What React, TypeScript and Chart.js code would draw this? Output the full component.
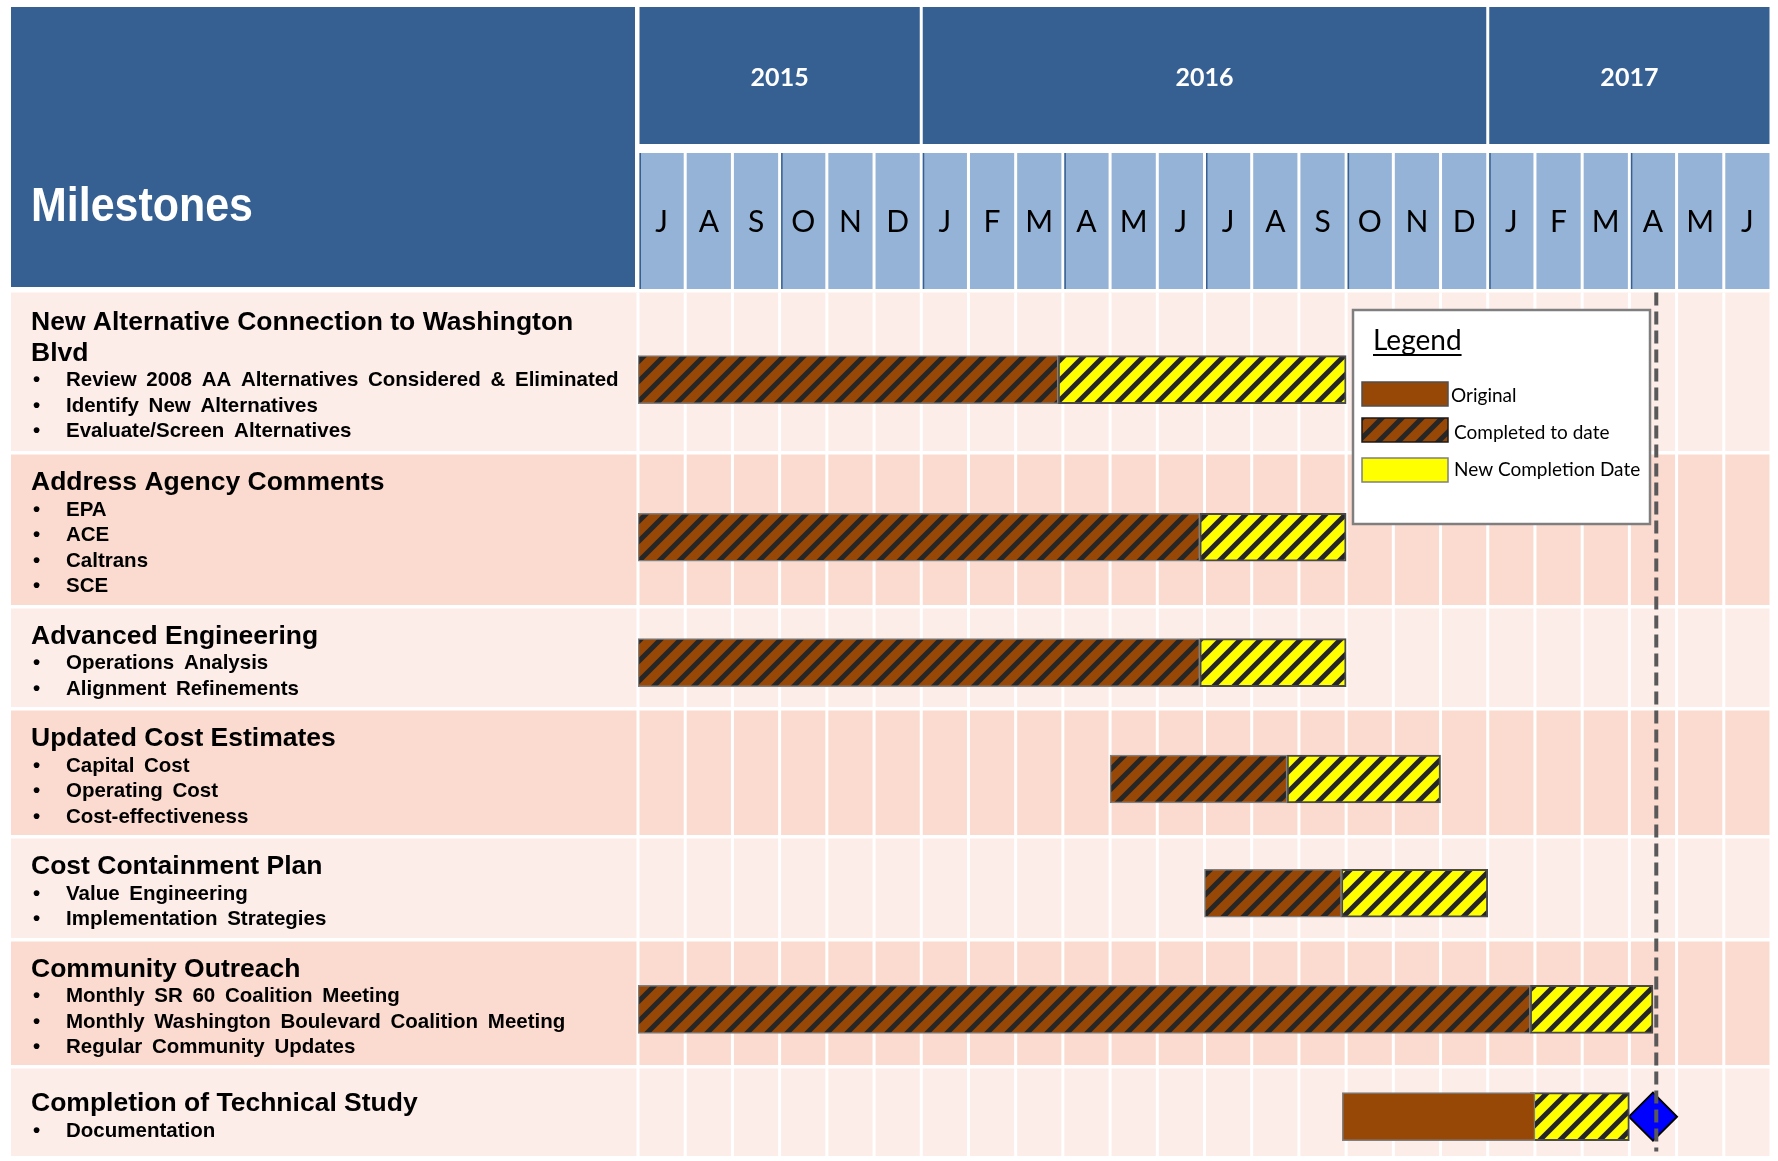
import React, { useEffect, useRef } from 'react';
import { Chart, registerables } from 'chart.js';

Chart.register(...registerables);

const CANVAS_W = 1778;
const CANVAS_H = 1161;

// ---------------- data ----------------
const years = ['2015', '2016', '2017'];
const monthsPerYear = [6, 12, 6];
const monthLabels = ['J', 'A', 'S', 'O', 'N', 'D', 'J', 'F', 'M', 'A', 'M', 'J', 'J', 'A', 'S', 'O', 'N', 'D', 'J', 'F', 'M', 'A', 'M', 'J'];

const milestoneTitles = [
  'New Alternative Connection to Washington Blvd',
  'Address Agency Comments',
  'Advanced Engineering',
  'Updated Cost Estimates',
  'Cost Containment Plan',
  'Community Outreach',
  'Completion of Technical Study',
];
const milestoneTasks = [
  ['Review 2008 AA Alternatives Considered & Eliminated', 'Identify New Alternatives', 'Evaluate/Screen Alternatives'],
  ['EPA', 'ACE', 'Caltrans', 'SCE'],
  ['Operations Analysis', 'Alignment Refinements'],
  ['Capital Cost', 'Operating Cost', 'Cost-effectiveness'],
  ['Value Engineering', 'Implementation Strategies'],
  ['Monthly SR 60 Coalition Meeting', 'Monthly Washington Boulevard Coalition Meeting', 'Regular Community Updates'],
  ['Documentation'],
];

// months counted from July 2015 (0) to July 2017 (24)
const originalRows = [6];
const originalStart = [14.92];
const originalEnd = [19];
const completedRows = [0, 1, 2, 3, 4, 5];
const completedStart = [0, 0, 0, 10, 12, 0];
const completedEnd = [8.9, 11.9, 11.9, 13.75, 14.9, 18.9];
const newDateRows = [0, 1, 2, 3, 4, 5, 6];
const newDateStart = [8.9, 11.9, 11.9, 13.75, 14.9, 18.9, 18.9];
const newDateEnd = [15, 15, 15, 17, 18, 21.5, 21];
const milestoneRows = [6];
const milestoneMonth = [21.5];
const statusMonth = 21.57;
const seriesLabels = ['Original', 'Completed to date', 'New Completion Date'];
const legendTitle = 'Legend';
const panelTitle = 'Milestones';

// ---------------- layout & style ----------------
const ROW_HEIGHTS = [162, 154, 102, 128, 103, 127, 91];
const ROW_GAP = 3.5;
const ROW_TOPS = ROW_HEIGHTS.map((_, i) => ROW_HEIGHTS.slice(0, i).reduce((a, b) => a + b, 0));
const ROWS_TOTAL = ROW_HEIGHTS.reduce((a, b) => a + b, 0);
const rowBarCenter = (i: number) => ROW_TOPS[i] + (ROW_HEIGHTS[i] - ROW_GAP) * 0.55;

const PANEL_LEFT = 11;
const GRID_LEFT = 638;
const GRID_RIGHT = 1771;
const HEADER_TOP = 7;
const YEAR_BOTTOM = 144;
const MONTH_TOP = 153;
const MONTH_BOTTOM = 289;
const PANEL_BOTTOM = 287;
const BODY_TOP = 292.5;

const COL = {
  header: '#366092',
  month: '#95B3D7',
  rowLight: '#FCEDE8',
  rowDark: '#FBDBCF',
  brown: '#974706',
  yellow: '#FFFF00',
  stripe: '#262626',
  diamond: '#0000FF',
  status: '#595959',
};

const SANS = '"Liberation Sans", Arial, sans-serif';
const CAL = 'Lato, "Open Sans", sans-serif';

function makeHatch(bg: string, stripe: string): CanvasPattern | string {
  const s = 20;
  const c = document.createElement('canvas');
  c.width = s;
  c.height = s;
  const g = c.getContext('2d');
  if (!g) return bg;
  g.fillStyle = bg;
  g.fillRect(0, 0, s, s);
  g.strokeStyle = stripe;
  g.lineWidth = 5;
  g.beginPath();
  g.moveTo(-5, 5); g.lineTo(5, -5);
  g.moveTo(-2, s + 2); g.lineTo(s + 2, -2);
  g.moveTo(s - 5, s + 5); g.lineTo(s + 5, s - 5);
  g.stroke();
  return g.createPattern(c, 'repeat') || bg;
}

function wrapWords(ctx: CanvasRenderingContext2D, text: string, maxW: number): string[] {
  const words = text.split(' ');
  const lines: string[] = [];
  let cur = '';
  words.forEach((w) => {
    const t = cur ? cur + ' ' + w : w;
    if (ctx.measureText(t).width > maxW && cur) {
      lines.push(cur);
      cur = w;
    } else cur = t;
  });
  if (cur) lines.push(cur);
  return lines;
}

export default function App() {
  const ref = useRef<HTMLCanvasElement>(null);

  useEffect(() => {
    const canvas = ref.current;
    if (!canvas) return;
    const hatchBrown = makeHatch(COL.brown, COL.stripe);
    const hatchYellow = makeHatch(COL.yellow, COL.stripe);
    const legendFills = [COL.brown, hatchBrown, COL.yellow];
    const legendBorders = ['#505050', '#1a1a1a', '#7f7f7f'];

    const headerPlugin = {
      id: 'ganttHeader',
      beforeDraw(chart: any) {
        const ctx = chart.ctx as CanvasRenderingContext2D;
        const xs = chart.scales.x;
        ctx.save();
        ctx.fillStyle = '#ffffff';
        ctx.fillRect(0, 0, CANVAS_W, CANVAS_H);
        // left title panel
        ctx.fillStyle = COL.header;
        ctx.fillRect(PANEL_LEFT, HEADER_TOP, 635 - PANEL_LEFT, PANEL_BOTTOM - HEADER_TOP);
        ctx.fillStyle = '#ffffff';
        ctx.font = 'bold 48px "Liberation Sans Narrow", ' + SANS;
        ctx.textBaseline = 'alphabetic';
        ctx.textAlign = 'left';
        const mw = ctx.measureText(panelTitle).width;
        ctx.save();
        ctx.translate(31, 221);
        ctx.scale(Math.min(1, 222 / mw), 1);
        ctx.fillText(panelTitle, 0, 0);
        ctx.restore();
        // years
        let m = 0;
        years.forEach((yr, k) => {
          const x0 = xs.getPixelForValue(m) + 1.5;
          const x1 = xs.getPixelForValue(m + monthsPerYear[k]) - 1.5;
          ctx.fillStyle = COL.header;
          ctx.fillRect(x0, HEADER_TOP, x1 - x0, YEAR_BOTTOM - HEADER_TOP);
          ctx.fillStyle = '#ffffff';
          ctx.font = 'bold 25px ' + CAL;
          ctx.textAlign = 'center';
          ctx.textBaseline = 'middle';
          ctx.fillText(yr, (x0 + x1) / 2, 78);
          m += monthsPerYear[k];
        });
        // months
        monthLabels.forEach((lab, i) => {
          const x0 = xs.getPixelForValue(i) + 1.5;
          const x1 = xs.getPixelForValue(i + 1) - 1.5;
          ctx.fillStyle = COL.month;
          ctx.fillRect(x0, MONTH_TOP, x1 - x0, MONTH_BOTTOM - MONTH_TOP);
          if (i % 3 === 0) {
            ctx.fillStyle = COL.header;
            ctx.fillRect(x0, MONTH_TOP, 1.5, MONTH_BOTTOM - MONTH_TOP);
          }
          ctx.fillStyle = '#000000';
          ctx.font = '30px ' + CAL;
          ctx.textAlign = 'center';
          ctx.textBaseline = 'middle';
          ctx.fillText(lab, (x0 + x1) / 2, 222);
        });
        ctx.restore();
      },
      beforeDatasetsDraw(chart: any) {
        const ctx = chart.ctx as CanvasRenderingContext2D;
        const xs = chart.scales.x;
        const ys = chart.scales.y;
        const area = chart.chartArea;
        ctx.save();
        ROW_HEIGHTS.forEach((h, i) => {
          const y0 = ys.getPixelForValue(ROW_TOPS[i]);
          const y1 = ys.getPixelForValue(ROW_TOPS[i] + h - ROW_GAP);
          ctx.fillStyle = i % 2 === 0 ? COL.rowLight : COL.rowDark;
          ctx.fillRect(PANEL_LEFT, y0, area.right - PANEL_LEFT, y1 - y0);
        });
        ctx.fillStyle = '#ffffff';
        for (let i = 0; i <= monthLabels.length; i++) {
          const x = xs.getPixelForValue(i);
          ctx.fillRect(x - 1.5, area.top, 3, area.bottom - area.top);
        }
        // row texts
        ctx.fillStyle = '#000000';
        ctx.textAlign = 'left';
        ctx.textBaseline = 'alphabetic';
        milestoneTitles.forEach((title, i) => {
          const y0 = ys.getPixelForValue(ROW_TOPS[i]);
          const y1 = ys.getPixelForValue(ROW_TOPS[i] + ROW_HEIGHTS[i] - ROW_GAP);
          const center = (y0 + y1) / 2;
          ctx.font = 'bold 26.5px ' + SANS;
          const lines = wrapWords(ctx, title, 590);
          const tasks = milestoneTasks[i];
          let base = center - ((lines.length - 1) * 31 + tasks.length * 25.5) / 2 + 11.5;
          lines.forEach((ln, j) => {
            ctx.fillText(ln, 31, base);
            if (j < lines.length - 1) base += 31;
          });
          ctx.font = 'bold 20.5px ' + SANS;
          (ctx as any).wordSpacing = '4px';
          tasks.forEach((t) => {
            base += 25.5;
            ctx.fillText('\u2022', 33, base);
            ctx.fillText(t, 66, base);
          });
          (ctx as any).wordSpacing = '0px';
        });
        ctx.restore();
      },
      afterDatasetsDraw(chart: any) {
        const ctx = chart.ctx as CanvasRenderingContext2D;
        const xs = chart.scales.x;
        const ys = chart.scales.y;
        const area = chart.chartArea;
        ctx.save();
        // status line
        const sx = xs.getPixelForValue(statusMonth);
        ctx.strokeStyle = COL.status;
        ctx.lineWidth = 4;
        ctx.setLineDash([13, 6]);
        ctx.beginPath();
        ctx.moveTo(sx, area.top);
        ctx.lineTo(sx, ys.getPixelForValue(ROWS_TOTAL - 8));
        ctx.stroke();
        ctx.setLineDash([]);
        // legend box
        const lx = area.left + 715;
        const ly = area.top + 17.5;
        const lw = 297;
        const lh = 214;
        ctx.fillStyle = '#ffffff';
        ctx.fillRect(lx, ly, lw, lh);
        ctx.strokeStyle = '#7f7f7f';
        ctx.lineWidth = 2.5;
        ctx.strokeRect(lx, ly, lw, lh);
        ctx.fillStyle = '#000000';
        ctx.font = '28px ' + CAL;
        ctx.textAlign = 'left';
        ctx.textBaseline = 'alphabetic';
        ctx.fillText(legendTitle, lx + 20, ly + 40);
        const tw = ctx.measureText(legendTitle).width;
        ctx.fillRect(lx + 20, ly + 44, tw, 2);
        const swY = [72, 108, 148];
        const txX = [98, 101, 101];
        const txY = [92, 129, 166];
        seriesLabels.forEach((lab, k) => {
          ctx.fillStyle = legendFills[k] as any;
          ctx.fillRect(lx + 9, ly + swY[k], 86, 24);
          ctx.strokeStyle = legendBorders[k];
          ctx.lineWidth = 1.5;
          ctx.strokeRect(lx + 9, ly + swY[k], 86, 24);
          ctx.fillStyle = '#000000';
          ctx.font = '19px ' + CAL;
          ctx.fillText(lab, lx + txX[k], ly + txY[k]);
        });
        ctx.restore();
      },
    };

    const barCommon = {
      type: 'bar' as const,
      indexAxis: 'y' as const,
      grouped: false,
      barThickness: 48,
      borderSkipped: false,
    };

    const chart = new Chart(canvas, {
      type: 'bar',
      data: {
        datasets: [
          {
            ...barCommon,
            label: seriesLabels[0],
            data: originalRows.map((r, k) => ({ x: [originalStart[k], originalEnd[k]], y: rowBarCenter(r) })),
            backgroundColor: COL.brown,
            borderColor: '#7f7f7f',
            borderWidth: 1.5,
          },
          {
            ...barCommon,
            label: seriesLabels[1],
            data: completedRows.map((r, k) => ({ x: [completedStart[k], completedEnd[k]], y: rowBarCenter(r) })),
            backgroundColor: hatchBrown,
            borderColor: '#7f7f7f',
            borderWidth: 1.5,
          },
          {
            ...barCommon,
            label: seriesLabels[2],
            data: newDateRows.map((r, k) => ({ x: [newDateStart[k], newDateEnd[k]], y: rowBarCenter(r) })),
            backgroundColor: hatchYellow,
            borderColor: '#4a4a4a',
            borderWidth: 2,
          },
          {
            type: 'scatter',
            label: 'Milestone',
            indexAxis: 'x',
            data: milestoneRows.map((r, k) => ({ x: milestoneMonth[k], y: rowBarCenter(r) })),
            pointStyle: 'rectRot',
            pointRadius: 24,
            backgroundColor: COL.diamond,
            borderColor: '#000000',
            borderWidth: 2,
          } as any,
        ] as any,
      },
      options: {
        indexAxis: 'y',
        responsive: false,
        animation: false,
        devicePixelRatio: 1,
        events: [],
        layout: {
          autoPadding: false,
          padding: { left: GRID_LEFT, right: CANVAS_W - GRID_RIGHT, top: BODY_TOP, bottom: CANVAS_H - (BODY_TOP + ROWS_TOTAL) },
        },
        scales: {
          x: { type: 'linear', min: 0, max: monthLabels.length, display: false, offset: false, grace: 0, grid: { offset: false } },
          y: { type: 'linear', min: 0, max: ROWS_TOTAL, reverse: true, display: false, offset: false, grace: 0, grid: { offset: false } },
        },
        plugins: {
          legend: { display: false },
          tooltip: { enabled: false },
        },
      } as any,
      plugins: [headerPlugin],
    });

    let alive = true;
    if ((document as any).fonts && (document as any).fonts.ready) {
      (document as any).fonts.ready.then(() => {
        if (alive) chart.draw();
      });
    }
    return () => {
      alive = false;
      chart.destroy();
    };
  }, []);

  return (
    <div style={{ position: 'fixed', left: 0, top: 0, width: CANVAS_W, height: CANVAS_H, background: '#ffffff', overflow: 'hidden' }}>
      <canvas ref={ref} width={CANVAS_W} height={CANVAS_H} style={{ display: 'block', width: CANVAS_W, height: CANVAS_H }} />
    </div>
  );
}
